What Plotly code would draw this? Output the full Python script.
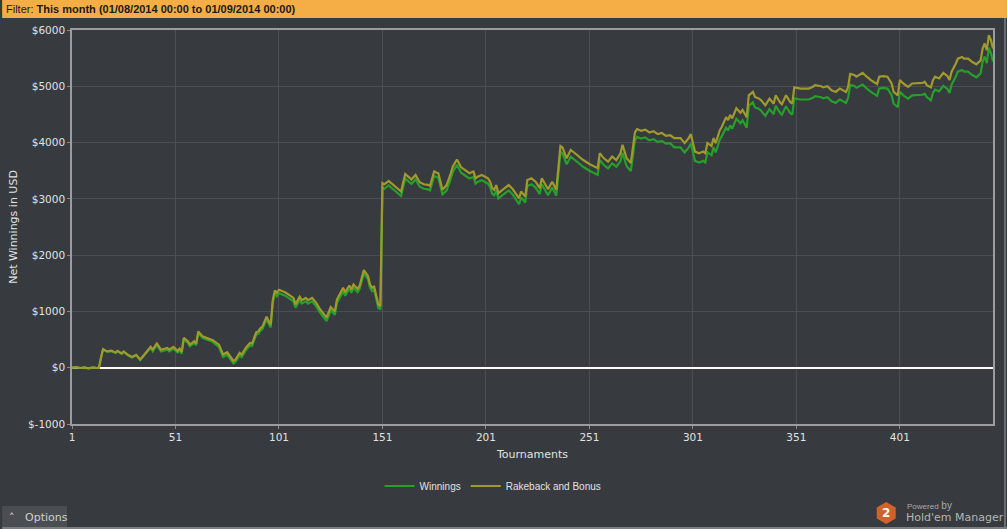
import plotly.graph_objects as go

tournaments = [
    1, 3, 5, 7, 9, 11, 13, 14, 15, 16, 18, 20, 22, 23, 25, 26, 28, 30, 32, 34, 35, 39,
    40, 42, 44, 47, 48, 50, 52, 53, 54, 55, 57, 58, 60, 61, 62, 64, 66, 68, 69, 72,
    74, 76, 78, 79, 80, 82, 83, 85, 87, 88, 90, 91, 92, 93, 95, 96, 97, 98, 99, 100,
    101, 104, 108, 109, 111, 112, 114, 115, 117, 119, 121, 124, 126, 128, 129, 132, 133, 135, 136, 137,
    139, 140, 142, 144, 145, 146, 147, 149, 150, 151, 152, 154, 157, 160, 162, 164, 165, 167,
    169, 171, 173, 174, 176, 177, 178, 180, 182, 184, 185, 187, 188, 189, 191, 193, 195, 196,
    197, 199, 202, 203, 204, 205, 206, 207, 209, 211, 212, 214, 216, 217, 218, 220, 221, 223,
    225, 227, 228, 229, 231, 233, 235, 237, 238, 240, 242, 244, 246, 248, 251, 253, 255, 256,
    258, 260, 262, 264, 266, 267, 269, 271, 273, 274, 276, 278, 280, 282, 284, 286, 288, 290,
    292, 295, 297, 299, 300, 302, 304, 306, 307, 308, 310, 311, 312, 313, 314, 315, 317, 318,
    319, 320, 322, 324, 325, 327, 328, 330, 331, 333, 334, 336, 338, 340, 341, 343, 344, 346,
    348, 349, 350, 353, 357, 359, 360, 363, 364, 366, 368, 370, 372, 375, 376, 377, 379, 380,
    383, 385, 387, 390, 391, 393, 395, 397, 398, 400, 401, 403, 405, 407, 409, 412, 413, 414,
    416, 417, 418, 420, 422, 424, 425, 426, 428, 429, 431, 432, 434, 436, 438, 440, 441, 442,
    443, 444, 445, 446,
]

winnings = [
    0, 10, -5, 5, -10, 5, -5, 0, 170, 320, 280, 295, 260, 290, 245, 280, 220, 180, 220, 135, 180, 360,
    290, 400, 290, 320, 290, 340, 270, 310, 250, 500, 440, 380, 440, 400, 615, 530, 500, 470, 460, 365,
    190, 230, 130, 75, 100, 220, 190, 310, 395, 385, 585, 600, 655, 685, 860, 775, 715, 1155, 1325, 1270,
    1325, 1280, 1180, 1065, 1200, 1140, 1180, 1140, 1180, 1090, 970, 830, 1020, 940, 1150, 1360, 1280, 1400, 1330, 1420,
    1340, 1400, 1675, 1570, 1420, 1360, 1380, 1065, 1035, 3200, 3180, 3240, 3150, 3050, 3360, 3300, 3265, 3345,
    3215, 3180, 3170, 3150, 3410, 3390, 3375, 3080, 3150, 3360, 3480, 3605, 3525, 3465, 3415, 3360, 3390, 3270,
    3300, 3330, 3270, 3210, 3095, 3065, 3150, 3005, 3065, 3125, 3150, 3075, 2965, 2905, 3025, 2935, 3230, 3260,
    3200, 3085, 3260, 3185, 3065, 3200, 3055, 3835, 3810, 3615, 3750, 3690, 3630, 3570, 3500, 3465, 3425, 3690,
    3600, 3540, 3630, 3570, 3670, 3820, 3580, 3495, 4040, 4100, 4070, 4090, 4040, 4060, 4010, 4030, 3980, 3990,
    3915, 3915, 3825, 3915, 3985, 3675, 3645, 3675, 3645, 3825, 3775, 3915, 3825, 3935, 4055, 4115, 4265, 4215,
    4305, 4245, 4425, 4345, 4395, 4265, 4655, 4715, 4625, 4595, 4565, 4475, 4595, 4505, 4655, 4535, 4495, 4645,
    4525, 4495, 4785, 4765, 4765, 4795, 4825, 4805, 4785, 4805, 4735, 4705, 4765, 4705, 4795, 5025, 5005, 4975,
    5030, 4960, 4900, 4830, 4960, 4970, 4960, 4840, 4690, 4630, 4900, 4830, 4780, 4840, 4840, 4850, 4870, 4810,
    4750, 4880, 4940, 4910, 5010, 4950, 4880, 5030, 5170, 5260, 5290, 5260, 5260, 5200, 5160, 5230, 5440, 5530,
    5410, 5680, 5590, 5440,
]

rakeback_and_bonus = [
    0, 10, -5, 5, -10, 5, -5, 0, 180, 330, 290, 305, 270, 300, 255, 290, 230, 190, 230, 145, 190, 370,
    320, 430, 320, 350, 320, 370, 300, 340, 280, 530, 470, 410, 470, 430, 645, 560, 530, 500, 490, 410,
    235, 275, 175, 120, 145, 265, 235, 355, 440, 430, 630, 645, 700, 730, 905, 820, 760, 1200, 1370, 1330,
    1385, 1340, 1240, 1125, 1260, 1200, 1240, 1200, 1240, 1150, 1030, 890, 1080, 1000, 1210, 1420, 1340, 1460, 1390, 1480,
    1400, 1460, 1735, 1630, 1480, 1420, 1440, 1125, 1095, 3280, 3260, 3320, 3230, 3130, 3440, 3380, 3345, 3425,
    3295, 3260, 3250, 3230, 3490, 3470, 3455, 3160, 3245, 3455, 3575, 3700, 3620, 3560, 3510, 3455, 3485, 3365,
    3395, 3425, 3365, 3305, 3190, 3160, 3245, 3100, 3160, 3220, 3245, 3170, 3070, 3010, 3130, 3040, 3335, 3365,
    3305, 3190, 3365, 3290, 3170, 3305, 3160, 3940, 3915, 3720, 3870, 3810, 3750, 3690, 3620, 3585, 3545, 3810,
    3720, 3660, 3750, 3690, 3810, 3960, 3720, 3635, 4180, 4240, 4210, 4230, 4180, 4200, 4150, 4170, 4120, 4130,
    4080, 4080, 3990, 4080, 4150, 3840, 3810, 3840, 3810, 3990, 3940, 4080, 3990, 4100, 4220, 4280, 4450, 4400,
    4490, 4430, 4610, 4530, 4580, 4450, 4840, 4900, 4810, 4780, 4750, 4660, 4780, 4690, 4840, 4720, 4680, 4840,
    4720, 4690, 4980, 4960, 4960, 4990, 5020, 5000, 4980, 5000, 4930, 4900, 4960, 4900, 4990, 5220, 5200, 5170,
    5240, 5170, 5110, 5040, 5170, 5180, 5170, 5050, 4900, 4840, 5110, 5040, 4990, 5050, 5050, 5060, 5080, 5020,
    4980, 5110, 5170, 5140, 5240, 5180, 5110, 5260, 5400, 5490, 5520, 5490, 5490, 5430, 5390, 5460, 5670, 5760,
    5640, 5910, 5820, 5670,
]

x_ticks = [1, 51, 101, 151, 201, 251, 301, 351, 401]
y_ticks = [-1000, 0, 1000, 2000, 3000, 4000, 5000, 6000]
y_tick_labels = ["$-1000", "$0", "$1000", "$2000", "$3000", "$4000", "$5000", "$6000"]

filter_text = "Filter: <b>This month (01/08/2014 00:00 to 01/09/2014 00:00)</b>"

BG = "#373a3e"
GRID = "#4b4e52"
TEXT = "#e2e2e2"

# plot area in pixels: left 70, right 993, top 30, bottom 424
def px(x):
    return (x - 70) / 923.0

def py(y):
    return (424 - y) / 394.0


fig = go.Figure()
fig.add_trace(go.Scatter(x=tournaments, y=winnings, mode="lines", name="Winnings",
                         line=dict(color="#25a02a", width=2.2)))
fig.add_trace(go.Scatter(x=tournaments, y=rakeback_and_bonus, mode="lines", name="Rakeback and Bonus",
                         line=dict(color="#a09a2c", width=2.2)))

fig.update_xaxes(range=[1, 446], tickvals=x_ticks, showgrid=True, gridcolor=GRID, gridwidth=1,
                 showline=True, linecolor="#9a9c9e", linewidth=1.5, mirror=True,
                 ticks="outside", ticklen=3, tickcolor="#8a8c8e",
                 tickfont=dict(family="DejaVu Sans", size=10.5, color=TEXT),
                 title=dict(text="Tournaments", standoff=8,
                            font=dict(family="DejaVu Sans", size=11, color=TEXT)),
                 zeroline=False)
fig.update_yaxes(range=[-1000, 6000], tickvals=y_ticks, ticktext=y_tick_labels,
                 showgrid=True, gridcolor=GRID, gridwidth=1,
                 showline=True, linecolor="#9a9c9e", linewidth=1.5, mirror=True,
                 ticks="outside", ticklen=3, tickcolor="#8a8c8e",
                 tickfont=dict(family="DejaVu Sans", size=10.5, color=TEXT),
                 title=dict(text="Net Winnings in USD", standoff=8,
                            font=dict(family="DejaVu Sans", size=11, color=TEXT)),
                 zeroline=True, zerolinecolor="#ffffff", zerolinewidth=2)

shapes = [
    # orange filter bar on top
    dict(type="rect", xref="paper", yref="paper", x0=px(0), x1=px(1007), y0=py(18), y1=py(0),
         fillcolor="#f5ad45", line=dict(width=0), layer="below"),
    # options button bottom left
    dict(type="rect", xref="paper", yref="paper", x0=px(0), x1=px(65), y0=py(527), y1=py(506),
         fillcolor="#4a4d51", line=dict(width=0), layer="below"),
    # window borders
    dict(type="line", xref="paper", yref="paper", x0=px(0), x1=px(1007), y0=py(528), y1=py(528),
         line=dict(color="#7c7f82", width=2)),
    dict(type="line", xref="paper", yref="paper", x0=px(1005), x1=px(1005), y0=py(529), y1=py(18),
         line=dict(color="#7c7f82", width=1.5)),
    # Hold'em Manager logo hexagon
    dict(type="path", xref="paper", yref="paper", fillcolor="#d0632a", line=dict(width=0),
         path="M {a},{b} L {c},{d} L {c},{e} L {a},{f} L {g},{e} L {g},{d} Z".format(
             a=px(886), b=py(502), c=px(895.5), d=py(507.5), e=py(518.5), f=py(524), g=px(876.5))),
]

annotations = [
    dict(text=filter_text, xref="paper", yref="paper", x=px(2), y=py(9), xanchor="left", yanchor="middle",
         showarrow=False, font=dict(family="Liberation Sans", size=11, color="#1a1a1a")),
    dict(text="\u02c4   Options", xref="paper", yref="paper", x=px(5), y=py(517), xanchor="left",
         yanchor="middle", showarrow=False, font=dict(family="DejaVu Sans", size=11, color="#cfcfcf")),
    dict(text="<b>2</b>", xref="paper", yref="paper", x=px(886), y=py(513), xanchor="center",
         yanchor="middle", showarrow=False, font=dict(family="DejaVu Sans", size=12, color="#ffffff")),
    dict(text="<span style='font-size:8px'>Powered</span> by", xref="paper", yref="paper", x=px(905),
         y=py(505), xanchor="left", yanchor="middle", showarrow=False,
         font=dict(family="Liberation Sans", size=10, color="#a8aaac")),
    dict(text="Hold'em Manager", xref="paper", yref="paper", x=px(904), y=py(517), xanchor="left",
         yanchor="middle", showarrow=False, font=dict(family="DejaVu Sans", size=11, color="#b4b6b8")),
]

fig.update_layout(
    width=1007, height=529,
    margin=dict(l=70, r=14, t=30, b=105),
    paper_bgcolor=BG, plot_bgcolor=BG,
    showlegend=True,
    legend=dict(orientation="h", x=px(492), y=py(486), xanchor="center", yanchor="middle",
                bgcolor="rgba(0,0,0,0)", itemwidth=30,
                font=dict(family="Liberation Sans", size=10, color=TEXT)),
    shapes=shapes,
    annotations=annotations,
)

# the page body has a default margin; drop it so the figure fills the window exactly
fig.write_html("out.html", config={"displayModeBar": False},
               post_script="document.body.style.margin='0';")
